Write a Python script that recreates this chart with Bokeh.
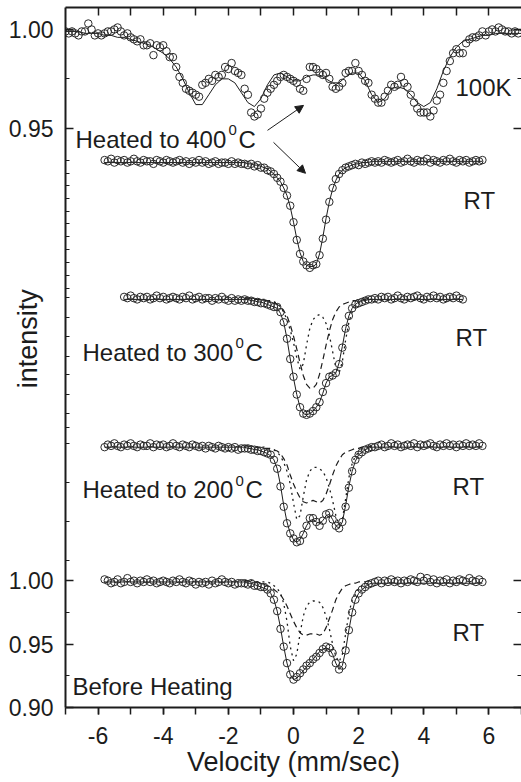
import numpy as np
from bokeh.plotting import figure
from bokeh.models import (Range1d, LinearAxis, FixedTicker, CustomJSTickFormatter,
                          Label, Arrow, NormalHead)
from bokeh.embed import file_html
from bokeh.resources import INLINE

# ---------------- data (transmission vs velocity, mm/sec) ----------------
STEP = 0.1  # channel spacing (mm/sec)

# 100K spectrum (sample heated to 400 C), channels -7.0 ... 6.9
k100_left = [0.999, 0.998, 0.999, 0.998, 0.997, 0.999, 0.999, 1.003, 1.000, 0.997,
             0.998, 0.997, 0.998, 0.999, 0.999, 1.000, 1.001, 0.999, 0.997, 0.998,
             0.996, 0.995, 0.994, 0.995, 0.992, 0.992, 0.993, 0.987, 0.992, 0.991,
             0.992, 0.989, 0.986, 0.986, 0.981, 0.976, 0.973, 0.970, 0.969, 0.968,
             0.967, 0.966, 0.972, 0.973, 0.975, 0.974, 0.977, 0.976, 0.977, 0.981,
             0.980, 0.983, 0.979, 0.978, 0.977, 0.970, 0.967, 0.958, 0.956, 0.957,
             0.960, 0.965, 0.968, 0.970, 0.972, 0.974, 0.976, 0.977, 0.976, 0.975]
k100_right = [0.974, 0.973, 0.970, 0.969, 0.975, 0.981, 0.981, 0.980, 0.978, 0.977,
              0.978, 0.975, 0.971, 0.970, 0.971, 0.973, 0.978, 0.979, 0.979, 0.983,
              0.979, 0.977, 0.974, 0.973, 0.967, 0.965, 0.963, 0.963, 0.966, 0.969,
              0.972, 0.971, 0.972, 0.976, 0.973, 0.971, 0.967, 0.963, 0.960, 0.958,
              0.958, 0.958, 0.956, 0.959, 0.964, 0.967, 0.973, 0.979, 0.984, 0.988,
              0.990, 0.988, 0.988, 0.993, 0.995, 0.996, 0.996, 0.997, 0.999, 0.997,
              0.999, 1.000, 0.999, 1.001, 1.000, 0.999, 0.999, 0.998, 0.999, 0.998]
# 100K fit, every 0.2 mm/sec from -7.0 to 7.0
k100_fit = [0.999, 0.999, 0.999, 0.998, 0.998, 0.998, 0.997, 0.997, 0.996, 0.996,
            0.995, 0.994, 0.993, 0.992, 0.990, 0.988, 0.985, 0.981, 0.975, 0.968,
            0.962, 0.962, 0.967, 0.972, 0.975, 0.975, 0.973, 0.968, 0.963, 0.961,
            0.965, 0.972, 0.977, 0.978, 0.976, 0.974, 0.974, 0.976, 0.977, 0.977,
            0.975, 0.973, 0.973, 0.976, 0.978, 0.978, 0.974, 0.967, 0.963, 0.965,
            0.970, 0.971, 0.970, 0.967, 0.963, 0.961, 0.963, 0.970, 0.979, 0.986,
            0.991, 0.994, 0.995, 0.996, 0.997, 0.997, 0.998, 0.998, 0.998, 0.998,
            0.998]

# RT spectra: left baseline, core (-1.5 ... 2.4), right baseline
rt400_left = [1.001, 1.000, 1.002, 0.999, 1.001, 1.000, 1.001, 0.999, 1.000, 1.002,
              1.000, 0.999, 1.001, 1.000, 1.000, 0.998, 1.001, 1.000, 0.999, 1.001,
              1.000, 0.999, 1.000, 1.001, 0.999, 1.000, 0.998, 1.000, 0.999, 1.001,
              0.999, 1.000, 0.998, 0.999, 1.000, 0.998, 0.999, 0.999, 0.998, 1.000,
              0.998, 0.999, 0.998]
rt400_core = [0.998, 0.997, 0.998, 0.996, 0.997, 0.995, 0.995, 0.993, 0.992, 0.990,
              0.987, 0.984, 0.979, 0.973, 0.965, 0.952, 0.938, 0.927, 0.921, 0.918,
              0.916, 0.918, 0.919, 0.926, 0.939, 0.954, 0.968, 0.979, 0.986, 0.990,
              0.993, 0.995, 0.996, 0.997, 0.998, 0.997, 0.999, 0.998, 0.999, 1.000]
rt400_right = [0.999, 1.000, 0.999, 1.001, 1.000, 0.999, 1.000, 1.001, 0.999, 1.000,
               1.002, 1.000, 0.999, 1.001, 1.000, 1.000, 1.002, 0.999, 1.001, 1.000,
               0.999, 1.001, 1.000, 1.002, 1.000, 0.999, 1.001, 1.000, 1.001, 0.999,
               1.000, 1.001, 1.000, 1.001]
rt400_fit = [0.999, 0.998, 0.998, 0.997, 0.997, 0.996, 0.995, 0.994, 0.992, 0.990,
             0.987, 0.984, 0.979, 0.973, 0.964, 0.952, 0.939, 0.928, 0.921, 0.918,
             0.917, 0.917, 0.919, 0.927, 0.940, 0.955, 0.968, 0.978, 0.985, 0.990,
             0.993, 0.995, 0.996, 0.997, 0.998, 0.998, 0.999, 0.999, 0.999, 1.000]

rt300_left = [1.001, 1.000, 1.002, 1.000, 0.999, 1.001, 1.000, 1.001, 0.999, 1.000,
              1.002, 1.000, 1.001, 0.999, 1.000, 1.001, 1.000, 0.999, 1.001, 1.000,
              1.002, 0.999, 1.000, 1.001, 0.999, 1.000, 1.000, 0.998, 1.000, 0.999,
              1.001, 0.999, 0.998, 1.000, 0.998, 0.999, 0.998]
rt300_core = [0.999, 0.998, 0.998, 0.997, 0.997, 0.996, 0.996, 0.995, 0.994, 0.993,
              0.993, 0.989, 0.981, 0.968, 0.952, 0.938, 0.924, 0.914, 0.909, 0.908,
              0.909, 0.911, 0.914, 0.918, 0.926, 0.933, 0.938, 0.939, 0.941, 0.948,
              0.961, 0.976, 0.986, 0.992, 0.995, 0.996, 0.997, 0.998, 0.999, 0.999]
rt300_right = [1.000, 0.999, 1.001, 1.000, 1.001, 0.999, 1.000, 1.002, 1.000, 0.999,
               1.001, 1.000, 1.001, 1.002, 1.000, 0.999, 1.001, 1.000, 1.002, 1.000,
               1.001, 0.999, 1.000, 1.001, 1.000, 1.002, 1.000, 0.999]
rt300_fit = [0.999, 0.999, 0.998, 0.998, 0.997, 0.997, 0.996, 0.995, 0.994, 0.993,
             0.992, 0.988, 0.981, 0.968, 0.952, 0.937, 0.924, 0.914, 0.909, 0.908,
             0.909, 0.911, 0.914, 0.918, 0.925, 0.933, 0.938, 0.939, 0.941, 0.949,
             0.962, 0.976, 0.986, 0.992, 0.995, 0.997, 0.998, 0.998, 0.999, 0.999]
rt300_dash = [1.000, 1.000, 0.999, 0.999, 0.999, 0.999, 0.998, 0.998, 0.997, 0.997,
              0.995, 0.993, 0.990, 0.986, 0.979, 0.970, 0.960, 0.949, 0.939, 0.932,
              0.929, 0.929, 0.932, 0.940, 0.951, 0.963, 0.974, 0.983, 0.989, 0.993,
              0.995, 0.996, 0.997, 0.998, 0.998, 0.999, 0.999, 0.999, 1.000, 1.000]
rt300_dot = [1.000, 1.000, 1.000, 0.999, 0.999, 0.999, 0.999, 0.998, 0.998, 0.997,
             0.996, 0.993, 0.989, 0.983, 0.975, 0.965, 0.953, 0.944, 0.948, 0.963,
             0.976, 0.983, 0.986, 0.987, 0.985, 0.980, 0.971, 0.958, 0.945, 0.941,
             0.950, 0.967, 0.981, 0.989, 0.993, 0.996, 0.997, 0.998, 0.999, 0.999]

rt200_left = [0.999, 1.001, 1.000, 1.002, 1.000, 0.999, 1.001, 1.000, 1.002, 1.000,
              0.999, 1.001, 1.000, 1.000, 1.002, 0.999, 1.001, 1.000, 1.001, 0.999,
              1.000, 1.002, 1.000, 0.999, 1.001, 1.000, 0.999, 1.001, 1.000, 0.999,
              1.000, 0.998, 1.000, 0.999, 0.998, 1.000, 0.999, 0.998, 0.999, 0.998,
              0.999, 0.997, 0.998]
rt200_core = [0.998, 0.998, 0.997, 0.997, 0.996, 0.996, 0.995, 0.994, 0.993, 0.989,
              0.982, 0.968, 0.952, 0.939, 0.931, 0.927, 0.924, 0.925, 0.930, 0.937,
              0.943, 0.943, 0.940, 0.937, 0.941, 0.946, 0.947, 0.942, 0.937, 0.935,
              0.940, 0.952, 0.967, 0.980, 0.989, 0.993, 0.995, 0.997, 0.998, 0.999]
rt200_right = [0.999, 1.000, 1.001, 0.999, 1.000, 1.002, 1.000, 1.001, 0.999, 1.000,
               1.001, 1.000, 1.002, 0.999, 1.001, 1.000, 1.001, 1.002, 1.000, 0.999,
               1.001, 1.000, 1.002, 1.000, 1.001, 0.999, 1.001, 1.000, 1.002, 1.000,
               1.001, 1.000, 1.002, 1.000]
rt200_fit = [0.999, 0.998, 0.998, 0.997, 0.997, 0.996, 0.995, 0.994, 0.992, 0.989,
             0.982, 0.969, 0.953, 0.940, 0.931, 0.926, 0.924, 0.926, 0.931, 0.937,
             0.941, 0.942, 0.940, 0.939, 0.941, 0.945, 0.946, 0.942, 0.937, 0.935,
             0.940, 0.953, 0.968, 0.980, 0.988, 0.993, 0.995, 0.997, 0.998, 0.999]
rt200_dash = [1.000, 1.000, 0.999, 0.999, 0.999, 0.999, 0.998, 0.998, 0.997, 0.997,
              0.996, 0.994, 0.990, 0.985, 0.977, 0.970, 0.964, 0.959, 0.956, 0.955,
              0.956, 0.957, 0.956, 0.955, 0.957, 0.962, 0.969, 0.977, 0.984, 0.989,
              0.993, 0.995, 0.996, 0.997, 0.998, 0.998, 0.999, 0.999, 0.999, 1.000]
rt200_dot = [1.000, 1.000, 1.000, 1.000, 0.999, 0.999, 0.999, 0.998, 0.998, 0.997,
             0.995, 0.992, 0.987, 0.980, 0.970, 0.955, 0.942, 0.945, 0.960, 0.973,
             0.980, 0.983, 0.983, 0.982, 0.980, 0.975, 0.967, 0.957, 0.945, 0.938,
             0.942, 0.958, 0.975, 0.986, 0.992, 0.995, 0.997, 0.998, 0.999, 1.000]

bh_left = [1.001, 1.000, 0.998, 0.999, 1.001, 0.998, 0.999, 1.002, 0.999, 1.000,
           0.998, 1.000, 0.999, 1.001, 0.999, 1.000, 0.998, 0.999, 1.000, 0.999,
           0.998, 1.000, 0.999, 1.001, 0.999, 0.998, 1.000, 0.999, 0.997, 0.999,
           0.998, 0.999, 0.997, 1.000, 0.998, 0.999, 1.001, 0.999, 0.998, 0.999,
           0.997, 0.998, 0.998]
bh_core = [0.998, 0.997, 0.998, 0.996, 0.996, 0.995, 0.995, 0.993, 0.990, 0.985,
           0.976, 0.962, 0.948, 0.935, 0.926, 0.922, 0.924, 0.927, 0.930, 0.933,
           0.935, 0.938, 0.940, 0.943, 0.946, 0.948, 0.947, 0.943, 0.935, 0.930,
           0.933, 0.945, 0.961, 0.975, 0.985, 0.990, 0.993, 0.995, 0.997, 0.998]
bh_right = [0.999, 1.000, 0.998, 1.000, 0.999, 1.001, 0.999, 1.000, 0.998, 1.000,
            0.999, 1.001, 1.000, 0.999, 1.003, 1.000, 1.002, 0.999, 1.001, 0.998,
            1.000, 0.999, 1.001, 0.998, 1.000, 0.999, 1.001, 1.000, 0.999, 1.002,
            1.000, 0.999, 1.001, 0.999]
bh_fit = [0.999, 0.998, 0.998, 0.997, 0.996, 0.995, 0.994, 0.993, 0.990, 0.985,
          0.976, 0.963, 0.948, 0.935, 0.926, 0.922, 0.923, 0.926, 0.929, 0.932,
          0.935, 0.938, 0.941, 0.944, 0.946, 0.947, 0.946, 0.942, 0.935, 0.930,
          0.933, 0.945, 0.961, 0.975, 0.985, 0.990, 0.993, 0.995, 0.997, 0.998]
bh_dash = [1.000, 1.000, 0.999, 0.999, 0.999, 0.998, 0.997, 0.996, 0.995, 0.993,
           0.991, 0.989, 0.985, 0.980, 0.974, 0.968, 0.963, 0.959, 0.957, 0.957,
           0.958, 0.958, 0.958, 0.957, 0.958, 0.963, 0.970, 0.977, 0.985, 0.990,
           0.994, 0.996, 0.997, 0.998, 0.998, 0.999, 0.999, 0.999, 1.000, 1.000]
bh_dot = [1.000, 1.000, 1.000, 1.000, 0.999, 0.999, 0.999, 0.999, 0.998, 0.996,
          0.994, 0.990, 0.982, 0.968, 0.948, 0.937, 0.942, 0.958, 0.972, 0.980,
          0.983, 0.984, 0.984, 0.983, 0.979, 0.972, 0.962, 0.950, 0.940, 0.936,
          0.942, 0.958, 0.974, 0.985, 0.991, 0.994, 0.996, 0.997, 0.998, 0.999]

# start velocities of the pieces
K100_START = -7.0
RT_START = -5.8          # 400C, 200C, before heating
RT300_START = -5.2
CORE_START = -1.5
RIGHT_START = 2.5

# y-ranges (each spectrum in its own vertical layer, as in the figure)
RANGE_BH = (0.900, 1.452)
RANGE_200 = (0.7937, 1.3457)
RANGE_300 = (0.6772, 1.2292)
RANGE_400 = (0.5693, 1.1213)
RANGE_100K = (0.6571, 1.0111)


def grid(start, n, step=STEP):
    return list(np.round(start + step * np.arange(n), 2))


INK = "#1c1c1c"
FONT = "Liberation Sans"

p = figure(width=521, height=782, output_backend="svg", toolbar_location=None,
           x_range=Range1d(-7, 7), y_range=Range1d(*RANGE_BH),
           min_border_left=65, min_border_right=0, min_border_top=7,
           min_border_bottom=75, background_fill_color="white",
           border_fill_color="white", outline_line_color=None)
p.xgrid.visible = False
p.ygrid.visible = False
p.extra_y_ranges = {"rt200": Range1d(*RANGE_200), "rt300": Range1d(*RANGE_300),
                    "rt400": Range1d(*RANGE_400), "k100": Range1d(*RANGE_100K)}

circ = dict(marker="circle", size=7.5, fill_alpha=0, line_color="#2a2a2a", line_width=1)


def draw_rt(left, core, right, fit, start, rname, dash=None, dot=None):
    xl = grid(start, len(left))
    xc = grid(CORE_START, len(core))
    xr = grid(RIGHT_START, len(right))
    kw = {} if rname is None else {"y_range_name": rname}
    fx = [xl[0]] + xc + [xr[-1]]
    fy = [fit[0]] + fit + [fit[-1]]
    if dash is not None:
        p.line(xc, dash, line_color=INK, line_width=1.2, line_dash="6 4", **kw)
    if dot is not None:
        p.line(xc, dot, line_color=INK, line_width=1.3, line_dash="2 4", **kw)
    p.line(fx, fy, line_color=INK, line_width=1, **kw)
    p.scatter(xl + xc + xr, left + core + right, **circ, **kw)


# 100K
kx = grid(K100_START, len(k100_left) + len(k100_right))
p.line(grid(K100_START, len(k100_fit), 0.2), k100_fit, line_color=INK, line_width=1,
       y_range_name="k100")
p.scatter(kx, k100_left + k100_right, y_range_name="k100", **circ)

draw_rt(rt400_left, rt400_core, rt400_right, rt400_fit, RT_START, "rt400")
draw_rt(rt300_left, rt300_core, rt300_right, rt300_fit, RT300_START, "rt300",
        rt300_dash, rt300_dot)
draw_rt(rt200_left, rt200_core, rt200_right, rt200_fit, RT_START, "rt200",
        rt200_dash, rt200_dot)
draw_rt(bh_left, bh_core, bh_right, bh_fit, RT_START, None, bh_dash, bh_dot)


# ---------------- axes ----------------
def k_to_main(v):
    a0, a1 = RANGE_100K
    b0, b1 = RANGE_BH
    return b0 + (v - a0) * (b1 - b0) / (a1 - a0)


def row_to_main(py):
    # pixel row of the original layer's tick -> main units
    return RANGE_BH[0] + (708.0 - py) / 1270.0


main_major = [0.90, 0.95, 1.00, k_to_main(0.95), k_to_main(1.00)]
labels = [[0.90, "0.90"], [0.95, "0.95"], [1.00, "1.00"],
          [k_to_main(0.95), "0.95"], [k_to_main(1.00), "1.00"]]
mid_rows = [160, 173, 185, 198, 211, 223, 236, 249, 262, 275, 288, 297, 317, 336,
            356, 375, 395, 414, 428, 444, 483, 522, 561]
main_minor = [0.925, 0.975, k_to_main(0.975)] + [row_to_main(r) for r in mid_rows]

ax = p.yaxis[0]
ax.ticker = FixedTicker(ticks=main_major, minor_ticks=main_minor)
ax.formatter = CustomJSTickFormatter(args=dict(pairs=labels), code="""
for (const pr of pairs) { if (Math.abs(tick - pr[0]) < 1e-6) return pr[1]; }
return "";
""")
ax.major_tick_in = 8
ax.major_tick_out = 0
ax.minor_tick_in = 4
ax.minor_tick_out = 0
ax.major_label_standoff = 12
ax.axis_label = "\u00a0" * 5 + "intensity"
ax.axis_label_standoff = -37
ax.axis_label_text_font = FONT
ax.axis_label_text_font_size = "27px"
ax.axis_label_text_font_style = "normal"
ax.axis_label_text_color = INK
ax.major_label_text_font = FONT
ax.major_label_text_font_size = "23px"
ax.major_label_text_color = INK
ax.axis_line_width = 2
ax.axis_line_color = INK
ax.major_tick_line_width = 1.5
ax.major_tick_line_color = INK
ax.minor_tick_line_color = INK

bx = p.xaxis[0]
bx.ticker = FixedTicker(ticks=[-6, -4, -2, 0, 2, 4, 6], minor_ticks=list(range(-7, 8)))
bx.formatter = CustomJSTickFormatter(code="return String(Math.round(tick));")
bx.major_tick_out = 7
bx.major_tick_in = 0
bx.minor_tick_out = 7
bx.minor_tick_in = 0
bx.major_label_standoff = 12
bx.axis_label = "Velocity (mm/sec)"
bx.axis_label_standoff = 0
bx.axis_label_text_font = FONT
bx.axis_label_text_font_size = "27px"
bx.axis_label_text_font_style = "normal"
bx.axis_label_text_color = INK
bx.major_label_text_font = FONT
bx.major_label_text_font_size = "23px"
bx.major_label_text_color = INK
bx.axis_line_width = 2
bx.axis_line_color = INK
bx.major_tick_line_width = 1.5
bx.major_tick_line_color = INK
bx.minor_tick_line_width = 1.5
bx.minor_tick_line_color = INK

blank = CustomJSTickFormatter(code="return '';")
top = LinearAxis(ticker=FixedTicker(ticks=list(range(-6, 7)), minor_ticks=[]),
                 formatter=blank, major_label_standoff=0,
                 major_tick_in=8, major_tick_out=0, axis_line_width=2,
                 axis_line_color=INK, major_tick_line_color=INK,
                 major_tick_line_width=1.5)
p.add_layout(top, "above")

right = LinearAxis(ticker=FixedTicker(ticks=main_major,
                                      minor_ticks=[0.925, 0.975, k_to_main(0.975)]),
                   formatter=CustomJSTickFormatter(code="return '';"),
                   major_label_standoff=0,
                   major_tick_in=8, major_tick_out=0, minor_tick_in=4,
                   minor_tick_out=0, axis_line_color=None,
                   major_tick_line_color=INK, minor_tick_line_color=INK,
                   major_tick_line_width=1.5)
p.add_layout(right, "right")


# ---------------- annotations ----------------
def vx(px):
    return -7 + (px - 65) / (456 / 14.0)


def label(txt, px, py, size="24px", dx=0, dy=0):
    p.add_layout(Label(x=vx(px), y=row_to_main(py), x_offset=dx, y_offset=dy,
                       text=txt, text_font=FONT, text_font_size=size,
                       text_color=INK, text_baseline="alphabetic",
                       text_align="left"))


def heated(temp, px, py):
    label("Heated to " + temp, px, py)
    label("0", px, py, size="15px", dx=153, dy=9)
    label("C", px, py, dx=163)


label("100K", 455, 87)
heated("400", 75, 139)
label("RT", 463, 200)
heated("300", 82, 352)
label("RT", 455, 337)
heated("200", 82, 490)
label("RT", 452, 487)
label("Before Heating", 72, 687)
label("RT", 452, 633)

for (x0, y0, x1, y1) in [(267, 130, 303, 105), (273, 142, 305, 173)]:
    p.add_layout(Arrow(end=NormalHead(size=8, fill_color=INK, line_color=INK),
                       x_start=vx(x0), y_start=row_to_main(y0),
                       x_end=vx(x1), y_end=row_to_main(y1),
                       line_color=INK, line_width=1))

open("out.html", "w").write(file_html(p, INLINE))
